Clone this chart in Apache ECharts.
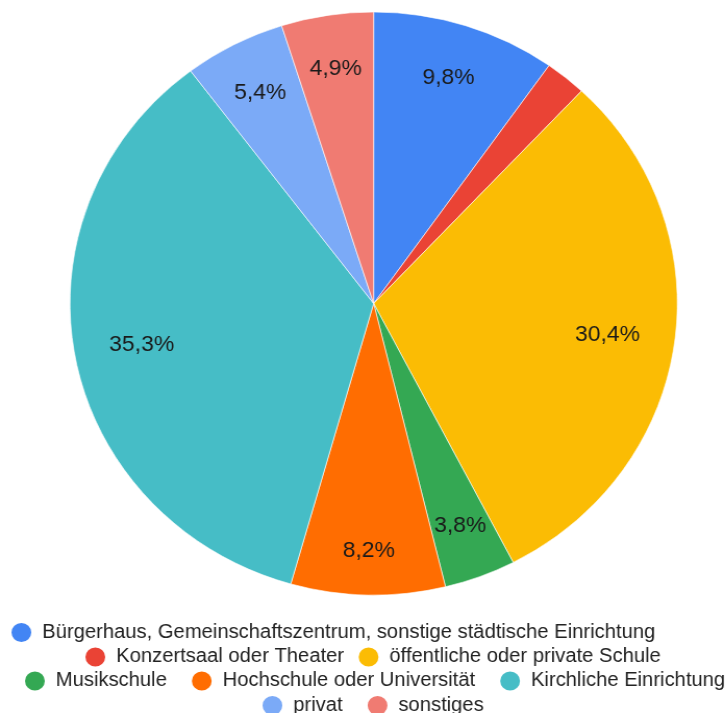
<!DOCTYPE html>
<html>
<head>
<meta charset="utf-8">
<script src="https://cdn.jsdelivr.net/npm/echarts@6/dist/echarts.min.js"></script>
<style>
  html, body { margin: 0; padding: 0; background: #fff; overflow: hidden; }
  #wrap { width: 725px; height: 713px; overflow: hidden; }
  /* chart is laid out slightly narrower, then widened to the full page width */
  #chart { width: 696px; height: 713px; transform: scaleX(1.0417); transform-origin: 0 0; }
</style>
</head>
<body>
<div id="wrap"><div id="chart"></div></div>
<script>
// Venue types (clockwise from 12 o'clock) and their share in percent
const categories = [
  'Bürgerhaus, Gemeinschaftszentrum, sonstige städtische Einrichtung',
  'Konzertsaal oder Theater',
  'öffentliche oder private Schule',
  'Musikschule',
  'Hochschule oder Universität',
  'Kirchliche Einrichtung',
  'privat',
  'sonstiges'
];
const shares = [9.8, 2.2, 30.4, 3.8, 8.2, 35.3, 5.4, 4.9];
const colors = ['#4285F4', '#EA4335', '#FBBC04', '#34A853', '#FF6D01', '#46BDC6', '#7BAAF7', '#F07B72'];
// which label ring each slice uses: 0 = none (too thin to label)
const labelRing = [2, 0, 1, 2, 3, 1, 2, 2];
// mid radius of each label ring, as a fraction of the pie radius
const ringFraction = { 1: 0.767, 2: 0.803, 3: 0.84 };

// legend rows: indices into categories
const legendRows = [[0], [1, 2], [3, 4, 5], [6, 7]];

const FONT = 'Arial, "Liberation Sans", sans-serif';
const fmt = v => v.toFixed(1).replace('.', ',') + '%';

const center = [358.7, 303.5];
const radius = 291.5;

const rowLeft = [9, 80, 22, 250];
const rowGap = [22, 12, 22, 22];
const rowY = [631.5, 656, 680, 704.5];

const legends = legendRows.map((row, i) => ({
  data: row.map(k => categories[k]),
  orient: 'horizontal',
  left: rowLeft[i],
  top: rowY[i] - 10.5,
  width: 900,
  padding: 0,
  icon: 'circle',
  itemWidth: 30,
  itemHeight: 21,
  itemGap: rowGap[i],
  selectedMode: false,
  textStyle: { fontSize: 19.4, color: '#222', fontFamily: FONT }
}));

// transparent ring whose inside labels sit at the ring's mid radius
function labelSeries(ring) {
  const mid = ringFraction[ring] * radius;
  return {
    type: 'pie',
    center: center,
    radius: [2 * mid - radius, radius],
    startAngle: 90,
    clockwise: true,
    silent: true,
    avoidLabelOverlap: false,
    itemStyle: { color: 'rgba(0,0,0,0)' },
    labelLine: { show: false },
    label: {
      show: true,
      position: 'inside',
      fontSize: 22,
      color: '#1a1a1a',
      fontFamily: FONT,
      formatter: p => fmt(p.value)
    },
    emphasis: { disabled: true },
    data: shares.map((v, i) => ({ value: v, label: { show: labelRing[i] === ring } }))
  };
}

const chart = echarts.init(document.getElementById('chart'), null, { renderer: 'canvas' });
chart.setOption({
  animation: false,
  color: colors,
  legend: legends,
  series: [
    {
      type: 'pie',
      center: center,
      radius: radius,
      startAngle: 90,
      clockwise: true,
      avoidLabelOverlap: false,
      label: { show: false },
      labelLine: { show: false },
      itemStyle: { borderColor: '#ffffff', borderWidth: 0.6 },
      emphasis: { disabled: true },
      data: categories.map((c, i) => ({ name: c, value: shares[i] }))
    },
    labelSeries(1),
    labelSeries(2),
    labelSeries(3)
  ]
});
</script>
</body>
</html>
